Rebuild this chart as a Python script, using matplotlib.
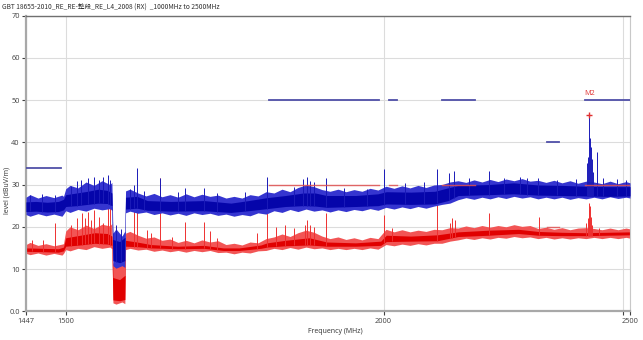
import numpy as np
import matplotlib
matplotlib.use("Agg")
import matplotlib.pyplot as plt
from matplotlib.ticker import NullLocator, FixedLocator

plt.rcParams["font.family"] = ["Open Sans", "Noto Sans CJK SC", "DejaVu Sans"]

title = "GBT 18655-2010_RE_RE-整段_RE_L4_2008 (RX)  _1000MHz to 2500MHz"

# sweep frequencies used for the ragged outer edge of both traces
edge_f = [1447, 1452.3, 1462.8, 1473.4, 1484.1, 1494.9, 1497, 1500, 1505.8,
          1516.7, 1527.8, 1538.9, 1550.1, 1561.3, 1564, 1565.5, 1569.8, 1578.4,
          1582.5, 1583.5, 1589.8, 1601.4, 1613.0, 1624.8, 1636.6, 1648.5,
          1660.5, 1672.5, 1684.7, 1696.9, 1709.3, 1721.7, 1734.2, 1746.8,
          1759.5, 1772.3, 1785.2, 1798.2, 1811.2, 1824.4, 1837.7, 1851.0,
          1864.5, 1878.0, 1891.7, 1905.4, 1919.3, 1933.2, 1947.3, 1961.4,
          1975.7, 1990.0, 2004.5, 2019.1, 2033.7, 2048.5, 2063.4, 2078.4,
          2093.5, 2108.7, 2123.9, 2139.5, 2155.0, 2170.7, 2186.5, 2202.4,
          2218.4, 2234.5, 2250.8, 2267.1, 2283.6, 2300.2, 2316.9, 2333.7,
          2350.7, 2367.8, 2385.0, 2402.3, 2419.7, 2437.4, 2455.2, 2473.0,
          2491.0, 2500]

# peak detector (blue)
pk_hi_e = [27.0, 27.6, 26.8, 27.4, 26.9, 27.5, 27.2, 29.0, 29.8, 29.2, 30.6,
           29.8, 30.9, 30.0, 30.5, 18.5, 19.5, 17.8, 19.0, 28.5, 28.9, 28.0,
           27.3, 27.9, 27.1, 27.6, 27.0, 27.8, 27.1, 27.7, 27.2, 27.5, 26.8,
           27.2, 26.8, 27.6, 27.3, 28.3, 28.0, 28.9, 28.3, 29.3, 29.9, 29.5,
           28.8, 28.4, 28.9, 28.3, 28.8, 28.4, 29.1, 28.7, 29.6, 29.1, 29.7,
           29.2, 29.8, 29.3, 29.9, 30.0, 30.6, 30.9, 30.5, 31.1, 30.6, 31.2,
           30.7, 31.3, 30.9, 31.4, 30.8, 31.0, 30.5, 31.0, 30.4, 30.9, 30.3,
           30.8, 30.6, 30.2, 30.8, 30.2, 30.7, 30.4]
pk_lo_e = [22.9, 22.5, 23.1, 22.6, 23.0, 22.5, 23.0, 23.8, 23.4, 24.1, 23.7,
           24.4, 24.0, 24.3, 23.9, 10.8, 10.2, 10.8, 10.4, 23.3, 23.7, 23.2,
           23.5, 22.9, 23.3, 22.8, 23.2, 22.7, 23.3, 22.9, 23.2, 22.7, 23.0,
           22.5, 22.9, 22.6, 23.3, 23.0, 23.8, 23.4, 24.1, 23.6, 24.2, 23.7,
           24.0, 23.5, 24.0, 23.6, 24.1, 23.8, 24.3, 23.9, 24.6, 24.2, 24.7,
           24.3, 24.8, 24.4, 24.9, 25.3, 25.6, 26.4, 26.9, 26.5, 27.0, 26.6,
           27.1, 26.7, 27.2, 26.8, 27.1, 26.6, 27.0, 26.6, 27.0, 26.5, 26.9,
           26.6, 27.0, 26.6, 27.1, 26.7, 27.0, 26.8]

pk_f = [1447, 1460, 1475, 1490, 1497, 1500, 1515, 1530, 1545, 1558, 1564,
        1565.5, 1575, 1582.5, 1583.5, 1600, 1615, 1650, 1700, 1742, 1770,
        1800, 1830, 1860, 1880, 1900, 1950, 1990, 2005, 2050, 2095, 2120,
        2140, 2200, 2250, 2300, 2350, 2400, 2450, 2500]
pk_lo_c = [23.6, 23.7, 23.5, 23.6, 24.0, 24.8, 25.0, 25.3, 25.6, 25.5, 25.0,
           12.0, 11.5, 12.0, 24.2, 24.4, 23.9, 23.7, 23.8, 23.4, 23.8,
           24.3, 24.8, 25.0, 24.9, 24.6, 24.8, 25.0, 25.4, 25.3, 25.4, 26.2,
           27.4, 27.6, 27.8, 27.5, 27.4, 27.3, 27.2, 27.3]
pk_hi_c = [25.9, 26.0, 25.8, 26.0, 26.5, 27.6, 28.0, 28.4, 28.9, 28.6, 28.0,
           17.0, 16.5, 17.5, 27.0, 27.2, 26.2, 26.0, 26.2, 25.6, 26.2,
           26.9, 27.4, 28.0, 28.0, 27.4, 27.4, 27.8, 28.3, 28.2, 28.4, 29.2,
           29.8, 30.0, 30.4, 29.9, 29.8, 29.6, 29.5, 29.5]

pk_sp_f = [1452, 1468, 1485, 1507, 1516, 1521, 1530, 1539, 1546, 1551, 1558,
           1562, 1570, 1577, 1590, 1595, 1600, 1610, 1634, 1660, 1671, 1700,
           1720, 1765, 1800, 1845, 1860, 1866, 1872, 1878, 1898, 1930, 1970,
           2000, 2040, 2075, 2100, 2123, 2131, 2160, 2201, 2230, 2263, 2277,
           2300, 2340, 2380, 2405, 2407, 2409.7, 2411, 2413, 2415, 2418,
           2427, 2440, 2470, 2490]
pk_sp_v = [27.6, 27.8, 27.5, 29.6, 30.8, 31.1, 31.5, 31.7, 31.0, 31.7, 32.3,
           31.0, 20.4, 19.5, 29.0, 30.0, 33.9, 28.5, 31.5, 28.3, 29.1, 29.1,
           28.0, 28.2, 31.9, 29.5, 31.2, 31.9, 30.8, 30.5, 31.5, 29.2, 29.0,
           33.6, 30.3, 30.6, 33.6, 32.7, 33.1, 31.5, 33.1, 31.5, 31.9, 31.5,
           31.5, 31.0, 31.2, 35.0, 36.5, 46.5, 41.0, 39.0, 36.0, 33.0,
           37.8, 31.6, 31.2, 31.0]

# average detector (red)
av_hi_e = [15.8, 16.3, 15.6, 16.0, 15.5, 15.9, 16.0, 19.0, 20.0, 19.3, 20.4,
           19.6, 20.6, 20.2, 20.8, 11.4, 12.0, 10.8, 12.2, 18.5, 18.9, 18.0,
           17.3, 17.6, 16.8, 17.1, 16.3, 16.8, 16.2, 16.9, 16.4, 16.7, 15.8,
           16.1, 15.7, 16.4, 16.2, 17.2, 17.6, 18.3, 17.7, 18.6, 19.2, 18.7,
           17.8, 17.2, 17.6, 17.0, 17.4, 16.9, 17.5, 17.2, 19.4, 18.8, 19.3,
           18.8, 19.2, 18.9, 19.4, 19.3, 19.8, 19.7, 20.2, 19.8, 20.3, 19.9,
           20.3, 20.0, 20.5, 20.1, 20.3, 19.6, 19.9, 19.4, 19.8, 19.3, 19.7,
           19.8, 19.6, 19.3, 19.7, 19.3, 19.7, 19.5]
av_lo_e = [13.7, 13.4, 13.8, 13.3, 13.7, 13.3, 13.7, 14.6, 14.3, 14.9, 14.6,
           15.3, 14.9, 15.2, 14.8, 2.0, 1.7, 2.2, 1.8, 14.6, 14.9, 14.5,
           14.7, 14.2, 14.5, 14.1, 14.4, 14.0, 14.4, 14.1, 14.4, 13.9, 14.0,
           13.6, 14.0, 13.8, 14.3, 14.4, 14.9, 14.6, 15.1, 14.7, 15.2, 14.8,
           15.0, 14.6, 14.9, 14.6, 14.9, 14.6, 15.0, 14.7, 15.8, 15.5, 15.9,
           15.6, 16.0, 15.7, 16.1, 16.1, 16.6, 16.9, 17.3, 17.0, 17.4, 17.1,
           17.5, 17.3, 17.7, 17.4, 17.6, 17.2, 17.5, 17.1, 17.4, 17.1, 17.4,
           17.2, 17.5, 17.2, 17.5, 17.2, 17.5, 17.3]

av_f = [1447, 1470, 1490, 1497, 1500, 1520, 1540, 1558, 1564,
        1565.5, 1575, 1582.5, 1583.5, 1600, 1620, 1660, 1700, 1730, 1755,
        1790, 1800, 1830, 1870, 1900, 1950, 1995, 2005, 2050, 2100, 2140,
        2200, 2260, 2300, 2350, 2400, 2450, 2500]
av_lo_c = [14.2, 14.1, 14.0, 14.3, 15.4, 15.7, 16.1, 15.9, 15.6,
           2.7, 2.5, 2.8, 15.4, 15.3, 15.0, 14.8, 14.9, 14.4, 14.4,
           14.9, 15.2, 15.5, 15.7, 15.4, 15.4, 15.6, 16.5, 16.6, 16.7, 17.7,
           18.0, 18.4, 18.0, 17.9, 17.9, 18.0, 18.1]
av_hi_c = [15.0, 14.9, 14.8, 15.2, 17.4, 18.0, 18.6, 18.4, 17.8,
           8.0, 7.5, 8.5, 16.8, 16.4, 15.8, 15.4, 15.6, 15.0, 15.0,
           15.7, 16.2, 16.8, 17.4, 16.4, 16.2, 16.6, 18.0, 17.8, 18.1, 18.8,
           19.2, 19.4, 18.9, 18.7, 18.6, 18.7, 18.8]

av_sp_f = [1455, 1470, 1485, 1507, 1515, 1522, 1527, 1530, 1535, 1539, 1546,
           1552, 1558, 1562, 1595, 1600, 1615, 1620, 1634, 1652, 1671, 1700,
           1709, 1720, 1784, 1800, 1815, 1830, 1845, 1862, 1866, 1872, 1878,
           1898, 2000, 2015, 2100, 2125, 2128, 2133, 2201, 2303, 2403,
           2406, 2408, 2409.7, 2411, 2413, 2416, 2430]
av_sp_v = [16.8, 16.9, 20.8, 20.4, 22.0, 23.2, 22.0, 23.6, 21.5, 24.0, 22.4,
           21.0, 26.5, 24.5, 24.8, 24.0, 19.3, 18.5, 31.5, 17.7, 21.2, 21.2,
           18.9, 17.3, 18.5, 24.0, 20.0, 20.5, 19.8, 20.4, 21.6, 20.4, 19.9,
           23.2, 22.9, 19.8, 25.6, 21.0, 22.0, 21.5, 23.2, 22.4, 20.8,
           22.0, 24.0, 25.6, 25.0, 22.4, 20.5, 19.8]

# limit lines: start, stop, level
pk_lim = [(1447, 1494, 34), (1803, 1992, 50), (2010, 2025, 50),
          (2108, 2172, 50), (2320, 2345, 40), (2400, 2500, 50)]
av_lim = [(1803, 1992, 30), (2010, 2025, 30), (2108, 2172, 30),
          (2320, 2345, 20), (2400, 2500, 30)]

marker_f, marker_v = 2409.7, 46.5

fig = plt.figure(figsize=(6.43, 3.40), dpi=100)
ax = fig.add_axes([0.0404, 0.0844, 0.9394, 0.870])

ax.set_xscale("log")
ax.set_xlim(1447, 2500)
ax.set_ylim(0, 70)

# average trace
ax.fill_between(edge_f, av_lo_e, av_hi_e, color="#f25555", lw=0, zorder=2)
ax.fill_between(av_f, av_lo_c, av_hi_c, color="#e00000", lw=0, zorder=2.1)
av_base = np.interp(av_sp_f, av_f, av_lo_c)
ax.vlines(av_sp_f, av_base, av_sp_v, color="#ee3030", lw=0.7, zorder=2.2)

# peak trace
ax.fill_between(edge_f, pk_lo_e, pk_hi_e, color="#3535d0", lw=0, zorder=3)
ax.fill_between(pk_f, pk_lo_c, pk_hi_c, color="#0505aa", lw=0, zorder=3.1)
pk_base = np.interp(pk_sp_f, pk_f, pk_lo_c)
ax.vlines(pk_sp_f, pk_base, pk_sp_v, color="#1a1ab8", lw=0.7, zorder=3.2)

for a, b, v in pk_lim:
    ax.plot([a, b], [v, v], color="#5050a8", lw=1.3, zorder=4)
for a, b, v in av_lim:
    ax.plot([a, b], [v, v], color="#e05050", lw=1.0, alpha=0.85, zorder=4)

ax.plot(marker_f, marker_v, marker="+", color="#e03030", ms=4, mew=1.0, zorder=5)
ax.text(marker_f, 50.6, "M2", color="#e03030", fontsize=5.2,
        ha="center", va="bottom", zorder=5)

# axes styling
ax.set_yticks(range(0, 80, 10))
ax.set_yticklabels(["0.0", "10", "20", "30", "40", "50", "60", "70"])
ax.xaxis.set_major_locator(FixedLocator([1447, 1500, 2000, 2483.5, 2500]))
ax.xaxis.set_minor_locator(NullLocator())
ax.set_xticklabels(["1447", "1500", "2000", "", "2500"])
ax.tick_params(labelsize=5.3, colors="#404040", length=3, width=0.8, pad=1.5)
ax.grid(True, color="#dcdcdc", lw=0.8, zorder=0)
ax.set_axisbelow(True)
for side in ["left", "bottom"]:
    ax.spines[side].set_color("#a8a8a8")
    ax.spines[side].set_linewidth(1.6)
ax.spines["top"].set_color("#707070")
ax.spines["top"].set_linewidth(1.0)
ax.spines["right"].set_color("#c8c8c8")
ax.spines["right"].set_linewidth(0.8)

fig.text(0.003, 0.982, title, fontsize=4.8, color="#303030", ha="left",
         va="center", family=["Noto Sans CJK SC", "DejaVu Sans"])
fig.text(0.011, 0.44, "level (dBuV/m)", fontsize=5.0, color="#303030",
         rotation=90, ha="center", va="center")
fig.text(0.521, 0.025, "Frequency (MHz)", fontsize=5.0, color="#303030",
         ha="center", va="center")

fig.savefig("out.png", dpi=100)
